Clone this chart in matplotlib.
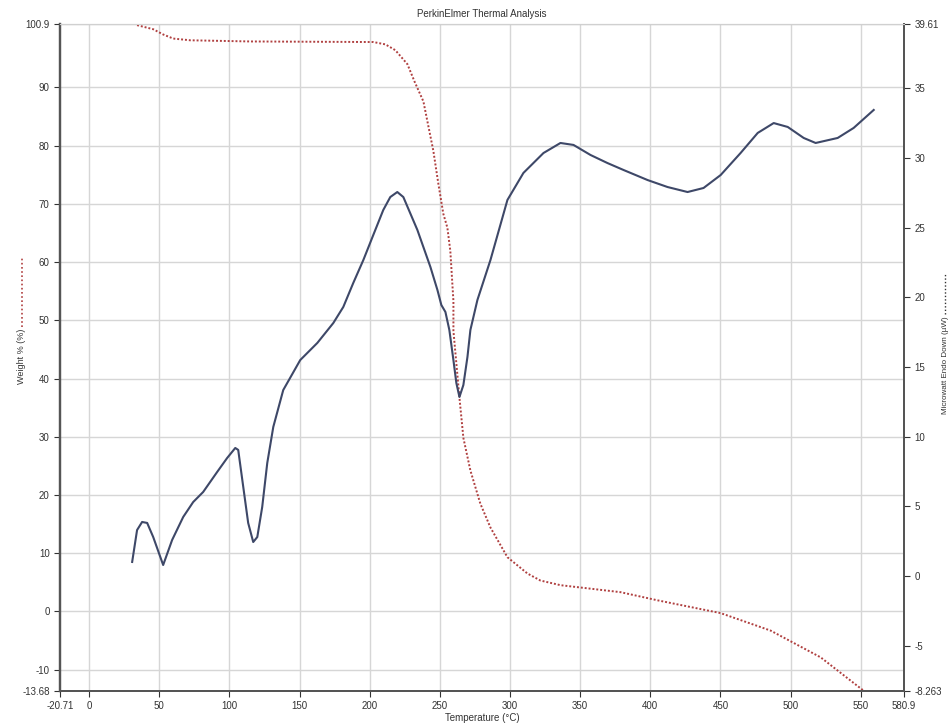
import numpy as np
import matplotlib
matplotlib.use("Agg")
import matplotlib.pyplot as plt
from matplotlib.lines import Line2D

plt.rcParams['font.family'] = ['Liberation Sans', 'DejaVu Sans']

# weight % curve (left axis)
w_temp = [34.2, 45.7, 52.8, 59.9, 72.1, 114.9, 202.6, 211.2, 218.3, 226.9,
          232.0, 238.3, 245.4, 249.0, 252.5, 255.4, 257.5, 259.7, 259.7, 264.0,
          266.8, 271.8, 278.9, 286.1, 298.2, 312.5, 321.7, 336.0, 378.8, 405.2,
          450.2, 485.8, 521.5, 545.0, 553.6]
weight = [100.7, 100.0, 99.1, 98.4, 98.1, 97.9, 97.8, 97.4, 96.4, 94.0,
          91.0, 87.6, 79.1, 73.4, 68.3, 65.9, 61.9, 53.3, 48.2, 36.7,
          29.8, 24.2, 18.5, 14.4, 9.3, 6.5, 5.3, 4.5, 3.3, 1.9,
          -0.3, -3.3, -7.9, -12.3, -13.9]

# heat flow curve (right axis)
h_temp = [30.7, 34.2, 37.8, 41.4, 45.7, 52.8, 59.2, 67.1, 74.2, 81.3,
          91.3, 98.4, 104.2, 106.3, 109.9, 113.4, 117.0, 119.9, 123.4, 127.0,
          131.3, 138.4, 150.5, 162.7, 174.1, 181.2, 188.3, 195.5, 202.6, 209.7,
          214.7, 219.7, 224.0, 234.0, 243.3, 248.3, 251.1, 254.0, 256.8, 259.7,
          261.8, 264.0, 266.8, 269.7, 271.8, 276.8, 286.1, 298.2, 309.6, 323.9,
          336.0, 345.3, 357.4, 369.5, 381.0, 398.1, 412.3, 426.6, 438.0, 450.2,
          464.4, 476.6, 488.0, 498.0, 509.4, 517.9, 533.6, 545.0, 559.3]
heat = [1.0, 3.29, 3.87, 3.80, 2.79, 0.78, 2.58, 4.23, 5.30, 6.02,
        7.46, 8.46, 9.18, 9.04, 6.38, 3.80, 2.43, 2.79, 4.94, 8.10,
        10.69, 13.34, 15.49, 16.72, 18.15, 19.30, 21.02, 22.67, 24.47, 26.26,
        27.19, 27.55, 27.19, 24.83, 22.17, 20.52, 19.44, 18.94, 17.65, 15.49,
        13.84, 12.84, 13.70, 15.71, 17.65, 19.80, 22.67, 26.98, 28.92, 30.35,
        31.07, 30.93, 30.21, 29.63, 29.13, 28.41, 27.91, 27.55, 27.84, 28.77,
        30.35, 31.79, 32.50, 32.22, 31.43, 31.07, 31.43, 32.15, 33.44]

x_ticks = [-20.71, 0, 50, 100, 150, 200, 250, 300, 350, 400, 450, 500, 550, 580.9]
x_labels = ["-20.71", "0", "50", "100", "150", "200", "250", "300", "350",
            "400", "450", "500", "550", "580.9"]
left_ticks = [-13.68, -10, 0, 10, 20, 30, 40, 50, 60, 70, 80, 90, 100.9]
left_labels = ["-13.68", "-10", "0", "10", "20", "30", "40", "50", "60",
               "70", "80", "90", "100.9"]
right_ticks = [-8.263, -5, 0, 5, 10, 15, 20, 25, 30, 35, 39.61]
right_labels = ["-8.263", "-5", "0", "5", "10", "15", "20", "25", "30",
                "35", "39.61"]

fig = plt.figure(figsize=(9.53, 7.27), dpi=100)
ax = fig.add_axes([0.063, 0.0495, 0.8856, 0.9175])
ax2 = ax.twinx()

ax.set_xlim(-20.71, 580.9)
ax.set_ylim(-13.68, 100.9)
ax2.set_ylim(-8.263, 39.61)

# grid
for t in x_ticks[1:-1]:
    ax.axvline(t, color='#d6d6d6', lw=1.0, zorder=0)
for t in left_ticks[1:-1]:
    ax.axhline(t, color='#d6d6d6', lw=1.0, zorder=0)
ax.axhline(100.9, color='#d0d0d0', lw=1.0, zorder=0)

ax.plot(w_temp, weight, color='#b04040', lw=1.4, ls=(0, (1, 1)), zorder=3)
ax2.plot(h_temp, heat, color='#3e4868', lw=1.5, zorder=3)

ax.set_xticks(x_ticks)
ax.set_xticklabels(x_labels)
ax.set_yticks(left_ticks)
ax.set_yticklabels(left_labels)
ax2.set_yticks(right_ticks)
ax2.set_yticklabels(right_labels)

for a in (ax, ax2):
    a.tick_params(labelsize=7, colors='#333333', length=4, width=0.8)
    for s in a.spines.values():
        s.set_color('#555555')
    a.spines['top'].set_color('#d0d0d0')
    a.spines['left'].set_linewidth(1.6)
    a.spines['right'].set_linewidth(1.4)
    a.spines['bottom'].set_linewidth(1.4)

ax.set_title("PerkinElmer Thermal Analysis", fontsize=7, color='#333333', pad=5)
ax.set_xlabel("Temperature (°C)", fontsize=7, color='#333333', labelpad=1)

fig.text(0.023, 0.51, "Weight % (%)", rotation=90, fontsize=6.5,
         color='#333333', ha='center', va='center')
fig.add_artist(Line2D([0.023, 0.023], [0.55, 0.646], transform=fig.transFigure,
                      color='#b04040', lw=1.2, ls=(0, (1, 1.5))))
fig.text(0.992, 0.498, "Microwatt Endo Down (µW)", rotation=90, fontsize=5.8,
         color='#333333', ha='center', va='center')
fig.add_artist(Line2D([0.992, 0.992], [0.568, 0.624], transform=fig.transFigure,
                      color='#333333', lw=1.0, ls=(0, (1, 1.5))))

fig.savefig("out.png", dpi=100)
